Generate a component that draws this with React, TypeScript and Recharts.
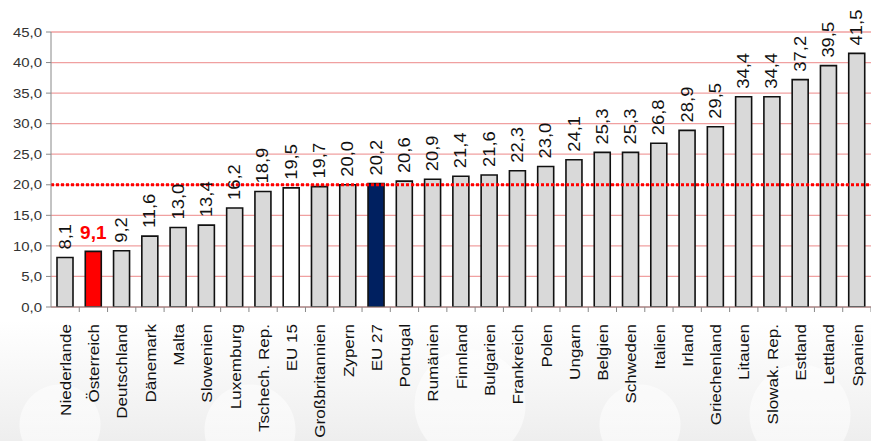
import React from "react";
import {
  BarChart,
  Bar,
  XAxis,
  YAxis,
  CartesianGrid,
  ReferenceLine,
  LabelList,
  Cell
} from "recharts";

const countries = [
  "Niederlande",
  "Österreich",
  "Deutschland",
  "Dänemark",
  "Malta",
  "Slowenien",
  "Luxemburg",
  "Tschech. Rep.",
  "EU 15",
  "Großbritannien",
  "Zypern",
  "EU 27",
  "Portugal",
  "Rumänien",
  "Finnland",
  "Bulgarien",
  "Frankreich",
  "Polen",
  "Ungarn",
  "Belgien",
  "Schweden",
  "Italien",
  "Irland",
  "Griechenland",
  "Litauen",
  "Slowak. Rep.",
  "Estland",
  "Lettland",
  "Spanien"
];

const values = [
  8.1, 9.1, 9.2, 11.6, 13.0, 13.4, 16.2, 18.9, 19.5, 19.7, 20.0, 20.2, 20.6,
  20.9, 21.4, 21.6, 22.3, 23.0, 24.1, 25.3, 25.3, 26.8, 28.9, 29.5, 34.4, 34.4,
  37.2, 39.5, 41.5
];

const yTicks = [0, 5, 10, 15, 20, 25, 30, 35, 40, 45];
const euAverage = 20;

const highlight = "Österreich";
const fills: Record<string, string> = {
  "Österreich": "#ff0000",
  "EU 15": "#ffffff",
  "EU 27": "#002060"
};

const data = countries.map((name, i) => ({ name, value: values[i] }));

const W = 871;
const H = 441;
const AXIS_W = 51;
const STEP = (W - AXIS_W) / countries.length;
const FONT = "'Liberation Sans', Arial, sans-serif";

const fmt = (v: number) => v.toFixed(1).replace(".", ",");

function YTick(props: any) {
  const { x, y, payload } = props;
  return (
    <text
      transform={`translate(${x - 2},${y}) scale(1.15,1)`}
      textAnchor="end"
      dominantBaseline="central"
      fontSize={13}
      fill="#333"
      fontFamily={FONT}
    >
      {fmt(payload.value)}
    </text>
  );
}

function XTick(props: any) {
  const { x, y, payload } = props;
  return (
    <g>
      <line x1={x + STEP / 2} x2={x + STEP / 2} y1={y - 8} y2={y - 3} stroke="#888" />
      <text
        transform={`translate(${x},${y + 9}) rotate(-90) scale(1.1,1)`}
        textAnchor="end"
        dominantBaseline="central"
        fontSize={15.5}
        fill="#111"
        fontFamily={FONT}
      >
        {payload.value}
      </text>
    </g>
  );
}

function ValueLabel(props: any) {
  const { x, y, width, value, index } = props;
  const cx = x + width / 2;
  if (countries[index] === highlight) {
    return (
      <text
        x={cx}
        y={y - 12}
        textAnchor="middle"
        fontSize={19}
        fontWeight="bold"
        fill="#ff0000"
        fontFamily={FONT}
      >
        {fmt(value)}
      </text>
    );
  }
  return (
    <text
      transform={`translate(${cx},${y - 8}) rotate(-90) scale(1.15,1)`}
      textAnchor="start"
      dominantBaseline="central"
      fontSize={16}
      fill="#111"
      fontFamily={FONT}
    >
      {fmt(value)}
    </text>
  );
}

export default function App() {
  return (
    <div
      style={{
        position: "fixed",
        left: 0,
        top: 0,
        width: W,
        height: H,
        background:
          "radial-gradient(circle at 60px 425px, rgba(255,255,255,0.55) 0 40px, transparent 41px)," +
          "radial-gradient(circle at 250px 430px, rgba(255,255,255,0.55) 0 45px, transparent 46px)," +
          "radial-gradient(circle at 470px 405px, rgba(255,255,255,0.55) 0 55px, transparent 56px)," +
          "radial-gradient(circle at 640px 425px, rgba(255,255,255,0.55) 0 40px, transparent 41px)," +
          "radial-gradient(circle at 800px 415px, rgba(255,255,255,0.55) 0 50px, transparent 51px)," +
          "linear-gradient(to bottom, #ffffff 0px, #ffffff 320px, #eeeeee 441px)"
      }}
    >
      <BarChart
        width={W}
        height={H}
        data={data}
        margin={{ top: 32, right: 0, left: 0, bottom: 0 }}
        barCategoryGap={0}
      >
        <CartesianGrid horizontal vertical={false} stroke="#f0a0a0" strokeWidth={1.3} />
        <XAxis
          dataKey="name"
          interval={0}
          height={134}
          tick={<XTick />}
          tickLine={false}
          axisLine={{ stroke: "#888" }}
        />
        <YAxis
          width={AXIS_W}
          domain={[0, 45]}
          ticks={yTicks}
          tick={<YTick />}
          tickSize={5}
          tickLine={{ stroke: "#888" }}
          axisLine={{ stroke: "#888" }}
          allowDataOverflow
        />
        <Bar dataKey="value" barSize={16} stroke="#111" strokeWidth={1.6} isAnimationActive={false}>
          {data.map((d) => (
            <Cell key={d.name} fill={fills[d.name] ?? "#d9d9d9"} />
          ))}
          <LabelList dataKey="value" content={<ValueLabel />} />
        </Bar>
        <ReferenceLine
          y={euAverage}
          stroke="#ff0000"
          strokeWidth={3}
          strokeDasharray="3 2"
        />
      </BarChart>
    </div>
  );
}
